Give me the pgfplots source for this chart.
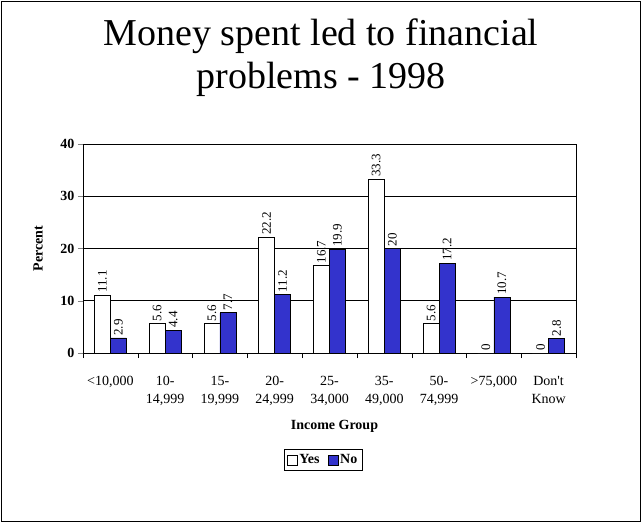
\documentclass[border=0pt]{standalone}
\usepackage{fontspec}
\setmainfont{Liberation Serif}
\usepackage{pgfplots}
\pgfplotsset{compat=1.18}
\definecolor{barblue}{RGB}{51,51,204}

\begin{document}
\begin{tikzpicture}[x=1pt,y=1pt]
  \useasboundingbox (0,0) rectangle (642,523);
  \draw[line width=1.2pt] (1.5,1.5) rectangle (640.5,521.5);
  \node[align=center,font=\fontsize{38}{43}\selectfont] at (321,465) {Money spent led to financial\\problems - 1998};

  \begin{axis}[
    at={(83pt,170pt)}, anchor=south west,
    scale only axis,
    width=493pt, height=209pt,
    ybar=0pt, bar width=16pt,
    xmin=-0.5, xmax=8.5,
    ymin=0, ymax=40,
    ytick={0,10,20,30,40},
    xtick={0,...,8},
    xticklabels={{<10,000},{10-\\14,999},{15-\\19,999},{20-\\24,999},{25-\\34,000},{35-\\49,000},{50-\\74,999},{>75,000},{Don\textquotesingle t\\Know}},
    xticklabel style={align=center,font=\fontsize{14}{18}\selectfont,yshift=-15pt},
    major x tick style={draw=none},
    extra x ticks={-0.5,0.5,...,8.5},
    extra x tick labels={},
    extra x tick style={major tick length=5pt,tick align=outside,major x tick style={draw=black},xtick pos=lower},
    yticklabel style={font=\fontsize{14}{14}\selectfont\bfseries},
    ytick pos=left, tick align=outside, major tick length=5pt,
    ymajorgrids, major grid style={black,line width=0.6pt},
    axis line style={line width=0.8pt},
    /pgf/number format/assume math mode=true,
    ylabel={\textbf{Percent}},
    ylabel style={at={(axis description cs:-0.091,0.5)},anchor=center,font=\fontsize{14}{14}\selectfont},
    xlabel={\textbf{Income Group}},
    xlabel style={at={(axis description cs:0.51,-0.35)},anchor=center,font=\fontsize{14}{14}\selectfont},
    nodes near coords,
    every node near coord/.append style={rotate=90,anchor=west,font=\fontsize{13}{13}\selectfont,inner sep=2pt},
    legend columns=2,
    legend style={at={(axis description cs:0.487,-0.512)},anchor=center,draw=black,line width=0.6pt,
      font=\fontsize{14}{14}\selectfont\bfseries,inner xsep=3pt,inner ysep=3pt,
      /tikz/every even column/.append style={column sep=6pt}},
    legend image code/.code={\draw[#1,line width=0.6pt] (0pt,-5pt) rectangle (10pt,5pt);},
  ]
    \addplot[draw=black,fill=white,line width=0.6pt] coordinates {
      (0,11.1) (1,5.6) (2,5.6) (3,22.2) (4,16.7) (5,33.3) (6,5.6) (7,0) (8,0)
    };
    \addlegendentry{Yes}
    \addplot[draw=black,fill=barblue,line width=0.6pt] coordinates {
      (0,2.9) (1,4.4) (2,7.7) (3,11.2) (4,19.9) (5,20) (6,17.2) (7,10.7) (8,2.8)
    };
    \addlegendentry{No}
  \end{axis}
\end{tikzpicture}
\end{document}
